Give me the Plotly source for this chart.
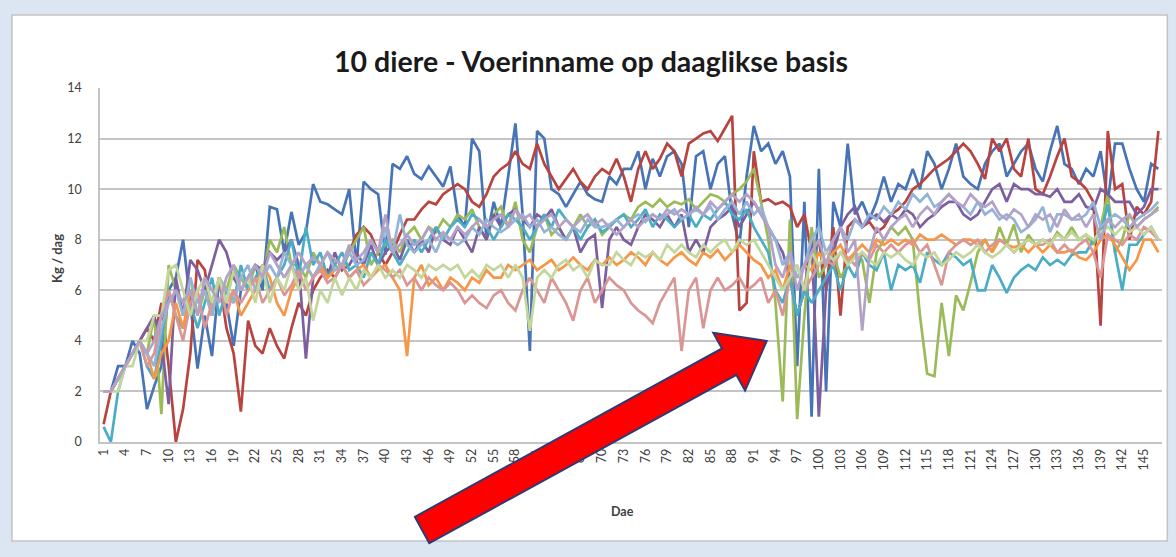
import plotly.graph_objects as go

days = list(range(1, 148))

blue = [2.0, 2.0, 3.0, 3.0, 4.0, 3.5, 1.3, 2.2, 3.0, 6.0,
        6.5, 8.0, 5.5, 2.9, 5.0, 3.4, 6.5, 5.5, 3.8, 6.0,
        6.5, 7.0, 6.0, 9.3, 9.2, 7.5, 9.1, 7.8, 8.3, 10.2,
        9.5, 9.4, 9.2, 9.0, 10.0, 7.0, 10.3, 10.0, 9.8, 7.4,
        11.0, 10.8, 11.3, 10.6, 10.4, 10.9, 10.5, 10.1, 10.9, 9.0,
        8.5, 12.0, 11.5, 8.0, 9.5, 8.5, 10.5, 12.6, 9.0, 3.6,
        12.3, 12.0, 10.0, 9.8, 9.3, 9.8, 10.3, 9.8, 9.6, 9.5,
        10.5, 10.2, 10.8, 10.8, 11.5, 10.0, 11.2, 10.5, 11.3, 11.5,
        11.0, 8.5, 11.3, 11.5, 10.0, 11.0, 11.3, 9.0, 7.8, 10.5,
        12.5, 11.5, 11.8, 11.0, 11.5, 10.5, 3.0, 9.5, 1.0, 10.8,
        2.0, 9.5, 8.5, 11.8, 9.0, 9.5, 8.8, 9.5, 10.5, 9.5,
        10.2, 10.0, 10.8, 10.0, 11.5, 11.0, 10.0, 10.8, 11.8, 10.5,
        10.2, 10.0, 11.0, 11.5, 11.8, 10.5, 11.0, 11.5, 11.8, 10.8,
        10.3, 11.5, 12.5, 11.0, 10.8, 10.2, 10.8, 10.5, 11.5, 9.5,
        11.8, 11.8, 10.8, 10.0, 9.5, 11.0, 10.8]

red = [0.7, 2.0, 2.5, 3.0, 3.5, 4.0, 4.5, 4.0, 5.5, 3.0,
       0.0, 1.3, 3.5, 7.2, 6.8, 5.0, 6.5, 4.5, 3.5, 1.2,
       4.8, 3.8, 3.5, 4.5, 3.8, 3.3, 4.5, 5.5, 5.0, 6.0,
       6.5, 6.8, 6.5, 7.0, 7.5, 8.2, 8.5, 8.2, 7.5, 7.0,
       7.5, 8.2, 8.8, 8.8, 9.2, 9.5, 9.4, 9.8, 10.0, 10.2,
       10.0, 9.5, 9.3, 9.8, 10.5, 10.8, 11.0, 11.5, 11.0, 10.8,
       11.8, 11.0, 10.5, 10.0, 10.4, 10.8, 10.3, 10.0, 10.5, 10.8,
       10.6, 11.2, 10.5, 9.5, 10.8, 11.5, 10.8, 11.2, 11.8, 11.5,
       10.5, 11.8, 12.0, 12.2, 12.3, 11.9, 12.4, 12.9, 5.2, 5.5,
       11.5, 9.5, 9.6, 9.4, 9.5, 9.3, 8.5, 9.0, 7.5, 8.0,
       6.0, 8.5, 5.0, 8.5, 8.8, 8.5, 8.7, 8.3, 8.5, 9.0,
       9.2, 9.5, 10.0, 10.2, 10.5, 10.8, 11.0, 11.2, 11.5, 11.8,
       11.5, 11.0, 10.4, 12.0, 11.5, 12.0, 10.8, 10.5, 12.0, 10.0,
       9.8, 10.5, 11.3, 12.0, 10.5, 10.3, 10.0, 9.5, 4.6, 12.3,
       10.0, 10.2, 8.0, 9.3, 9.0, 9.5, 12.3]

green = [2.0, 2.0, 2.5, 3.0, 3.5, 4.0, 3.5, 5.0, 1.1, 7.0,
         6.0, 5.5, 6.5, 5.0, 6.0, 5.5, 6.5, 6.0, 7.0, 6.5,
         6.0, 7.0, 6.5, 8.0, 7.5, 8.5, 7.0, 7.0, 6.5, 7.5,
         7.0, 7.5, 7.0, 6.8, 7.5, 8.0, 8.5, 7.0, 7.5, 7.8,
         8.0, 7.5, 8.2, 8.5, 8.0, 8.5, 8.3, 8.8, 8.5, 9.0,
         8.8, 9.2, 8.5, 8.0, 9.0, 9.3, 8.5, 9.5, 8.0, 7.5,
         8.5, 9.0, 8.2, 8.5, 8.0, 8.5, 9.0, 8.5, 8.8, 8.2,
         8.5, 8.8, 9.0, 8.8, 9.3, 9.5, 9.3, 9.6, 9.3, 9.5,
         9.4, 9.6, 9.2, 9.5, 9.8, 9.7, 9.5, 9.8, 10.0, 10.3,
         10.8, 9.5, 8.0, 5.5, 1.6, 8.8, 0.9, 5.0, 8.5, 6.5,
         7.0, 7.5, 6.5, 7.0, 7.5, 7.2, 5.5, 7.5, 8.0, 8.5,
         8.2, 8.5, 8.0, 5.0, 2.7, 2.6, 5.5, 3.4, 5.8, 5.2,
         6.3, 7.5, 8.0, 7.5, 8.5, 7.8, 8.6, 7.5, 8.2, 7.8,
         8.0, 7.8, 8.3, 8.0, 8.5, 8.0, 8.2, 7.8, 8.5, 9.8,
         7.5, 8.0, 9.0, 8.5, 8.8, 9.0, 9.3]

purple = [2.0, 2.0, 2.5, 3.0, 3.5, 4.0, 4.5, 5.0, 4.0, 1.5,
          6.5, 5.0, 7.2, 6.8, 6.0, 7.0, 8.0, 7.5, 6.5, 6.0,
          6.5, 7.0, 6.8, 7.5, 7.2, 7.5, 8.0, 7.0, 3.3, 6.5,
          7.0, 6.5, 7.5, 6.8, 7.0, 7.5, 7.0, 7.8, 7.0, 7.5,
          7.8, 7.2, 8.0, 7.5, 8.0, 7.5, 8.5, 8.0, 7.8, 8.5,
          8.0, 7.5, 8.5, 8.0, 9.0, 8.5, 9.0, 9.2, 8.8, 8.5,
          9.0, 8.8, 9.2, 8.5, 8.0, 8.5, 7.5, 8.0, 8.2, 5.3,
          8.0, 8.5, 8.0, 7.8, 8.5, 9.0, 8.8, 8.5, 9.0, 8.5,
          9.0, 7.5, 8.0, 7.5, 8.5, 8.8, 9.0, 9.3, 8.5, 9.0,
          9.5, 9.0, 8.5, 8.0, 7.5, 6.5, 5.0, 6.0, 8.0, 1.0,
          6.0, 7.5, 8.5, 9.0, 9.3, 8.5, 8.8, 9.0, 8.7, 9.0,
          8.8, 9.2, 9.0, 8.5, 8.8, 9.0, 9.3, 9.5, 9.5, 9.0,
          8.8, 9.0, 9.5, 10.0, 10.2, 9.5, 10.2, 10.0, 10.0, 9.8,
          9.8, 9.7, 10.0, 9.5, 9.5, 9.8, 9.3, 9.2, 10.0, 9.8,
          9.5, 9.5, 9.5, 9.0, 9.3, 10.0, 10.0]

aqua = [0.6, 0.0, 2.0, 3.0, 3.5, 4.0, 3.0, 2.5, 4.0, 6.0,
        5.0, 4.5, 5.5, 4.5, 5.5, 6.5, 5.0, 6.0, 5.5, 7.0,
        6.0, 6.5, 7.0, 6.0, 6.5, 7.0, 8.0, 6.5, 8.5, 7.0,
        7.5, 6.5, 7.0, 7.5, 6.8, 7.0, 6.5, 7.5, 7.0, 8.0,
        7.5, 7.0, 7.5, 8.0, 7.5, 8.0, 8.5, 8.0, 8.5, 8.8,
        8.5, 9.0, 8.8, 8.5, 8.0, 8.5, 9.0, 8.8, 8.5, 8.0,
        8.5, 9.0, 8.5, 9.2, 8.8, 8.5, 8.0, 8.5, 8.8, 8.3,
        8.5, 8.8, 9.0, 8.5, 8.8, 9.2, 8.5, 9.0, 8.8, 8.5,
        8.8, 9.0, 8.5, 9.0, 8.8, 9.2, 9.5, 9.0, 8.8, 9.2,
        8.5, 8.0, 7.5, 6.0, 5.5, 6.5, 5.0, 6.0, 5.5, 6.0,
        6.5, 7.0, 6.0, 7.0, 6.5, 7.5, 7.0, 6.8, 7.5, 6.0,
        7.0, 6.8, 7.0, 6.3, 7.5, 7.2, 7.0, 7.5, 7.3, 7.0,
        7.2, 6.0, 6.0, 7.0, 6.5, 5.9, 6.5, 6.8, 7.0, 6.8,
        7.3, 7.0, 7.2, 7.0, 7.4, 7.5, 7.5, 8.0, 8.2, 9.4,
        7.5, 6.0, 7.8, 7.8, 8.2, 8.5, 8.0]

orange = [2.0, 2.0, 2.5, 3.0, 3.5, 4.0, 3.5, 2.5, 3.5, 4.0,
          5.5, 4.5, 6.0, 5.5, 6.0, 5.0, 6.5, 5.5, 6.0, 5.0,
          5.5, 6.0, 7.0, 6.5, 5.5, 5.0, 6.0, 6.5, 7.0, 6.5,
          7.0, 6.5, 6.8, 7.0, 6.5, 6.8, 7.0, 6.5, 6.8, 7.0,
          6.5, 6.0, 3.4, 6.5, 7.0, 6.2, 6.5, 6.0, 6.5, 6.3,
          6.0, 6.5, 6.3, 6.8, 6.5, 6.5, 7.0, 6.8, 7.0, 7.2,
          6.8, 7.0, 7.2, 6.8, 7.0, 7.3, 7.0, 6.8, 7.2, 7.0,
          7.3, 7.0, 7.2, 7.5, 7.3, 7.0, 7.5, 7.2, 7.0, 7.3,
          7.5, 7.2, 7.0, 7.5, 7.3, 7.6, 7.2, 7.5, 7.8, 7.5,
          7.2, 7.0, 6.5, 6.8, 6.0, 7.0, 6.5, 7.0, 6.8, 7.5,
          7.0, 7.5, 7.8, 7.2, 7.5, 7.8, 7.5, 8.0, 7.8, 8.0,
          7.8, 8.0, 7.8, 8.2, 8.0, 8.0, 8.2, 8.0, 7.8, 8.0,
          8.0, 7.8, 8.0, 7.5, 8.0, 7.8, 7.7, 7.8, 7.5, 7.8,
          7.5, 7.8, 7.5, 7.5, 7.6, 7.3, 7.2, 7.5, 8.0, 8.2,
          7.8, 7.3, 6.8, 7.2, 8.0, 8.0, 7.5]

light_blue = [2.0, 2.0, 2.5, 3.0, 3.5, 4.0, 3.5, 3.0, 4.5, 5.5,
              6.0, 5.0, 6.5, 5.5, 6.0, 5.0, 6.5, 6.0, 5.5, 6.5,
              7.0, 6.0, 6.5, 7.0, 6.5, 7.5, 7.0, 6.5, 7.0, 6.5,
              7.0, 7.5, 6.8, 7.0, 7.5, 7.0, 7.2, 8.0, 7.5, 8.5,
              7.5, 9.0, 7.8, 7.5, 7.8, 8.0, 7.5, 8.2, 8.0, 7.8,
              8.0, 8.5, 8.2, 8.8, 8.5, 8.3, 8.5, 8.8, 9.0, 8.5,
              8.8, 8.3, 8.5, 8.2, 8.0, 8.5, 8.3, 8.8, 8.5, 8.5,
              8.6, 8.8, 8.5, 8.8, 9.0, 8.7, 9.0, 8.8, 9.0, 9.2,
              8.8, 9.0, 9.2, 9.0, 9.3, 8.8, 9.2, 9.5, 9.0, 9.5,
              9.0, 9.3, 8.5, 8.0, 7.0, 7.5, 6.5, 7.0, 8.0, 8.5,
              7.5, 8.0, 8.5, 8.0, 8.8, 8.5, 9.0, 8.8, 9.3, 9.0,
              9.5, 9.2, 9.8, 9.5, 9.8, 9.3, 9.5, 9.8, 9.5, 9.3,
              9.0, 9.5, 9.0, 9.2, 8.8, 9.0, 8.8, 8.3, 8.5, 8.8,
              9.3, 8.3, 9.0, 9.0, 8.8, 8.8, 9.0, 9.5, 8.5, 8.8,
              9.0, 8.8, 8.5, 8.8, 9.0, 9.2, 9.5]

pink = [2.0, 2.0, 2.5, 3.0, 3.5, 4.0, 3.0, 3.5, 5.0, 6.0,
        5.0, 4.0, 5.5, 6.0, 4.5, 5.5, 6.5, 5.0, 6.0, 5.5,
        6.0, 6.5, 5.5, 6.0, 6.5, 5.8, 6.2, 6.8, 6.0, 6.5,
        6.8, 6.3, 6.5, 7.0, 6.5, 6.8, 6.2, 6.5, 7.0, 6.8,
        6.5, 6.8, 6.2, 6.5, 6.0, 6.5, 6.2, 6.0, 6.3, 6.0,
        5.5, 5.8, 5.5, 5.3, 5.8, 6.0, 5.5, 5.2, 6.0, 6.5,
        6.0, 5.5, 6.5, 6.0, 5.5, 4.8, 6.0, 6.5, 5.5, 6.0,
        6.5, 6.2, 6.0, 5.5, 5.2, 5.0, 4.7, 5.5, 6.0, 6.5,
        3.6, 6.0, 6.5, 4.5, 6.0, 6.5, 6.0, 6.2, 6.5, 6.0,
        6.2, 6.5, 5.5, 6.0, 5.0, 6.5, 7.0, 6.0, 6.5, 7.0,
        7.2, 7.0, 7.5, 7.3, 7.0, 7.5, 7.2, 7.8, 7.5, 7.8,
        7.5, 7.8, 8.0, 7.5, 7.8, 7.0, 6.2, 7.5, 7.8, 8.0,
        7.8, 8.0, 7.5, 7.8, 8.0, 7.8, 7.5, 7.8, 8.0, 7.8,
        7.8, 8.0, 7.5, 7.8, 7.5, 7.8, 8.0, 7.5, 6.5, 8.2,
        8.0, 7.8, 8.2, 8.0, 8.5, 8.3, 8.0]

light_green = [2.0, 2.0, 2.0, 3.0, 3.0, 4.0, 4.0, 5.0, 5.0, 6.8,
               7.0, 6.0, 5.0, 6.0, 6.5, 5.5, 6.5, 5.5, 6.8, 6.0,
               6.5, 5.5, 7.0, 5.5, 6.5, 6.0, 7.0, 6.0, 6.5, 4.8,
               6.0, 5.5, 6.5, 5.8, 6.5, 6.0, 6.8, 6.5, 7.0, 6.5,
               6.8, 6.5, 7.0, 6.8, 6.5, 7.0, 6.8, 7.0, 6.8, 7.0,
               6.5, 6.8, 6.5, 7.0, 6.8, 7.0, 6.5, 7.0, 6.5, 4.4,
               6.5, 6.8, 6.5, 7.0, 7.2, 6.8, 7.0, 6.5, 7.2, 7.0,
               7.0, 7.5, 7.2, 7.0, 7.5, 7.3, 7.5, 7.2, 7.8, 7.5,
               7.8, 7.5, 7.3, 7.8, 7.5, 7.8, 8.0, 7.5, 8.0, 7.8,
               8.0, 7.5, 7.0, 6.5, 6.0, 6.5, 7.0, 6.0, 7.5, 7.0,
               7.5, 7.2, 7.5, 7.0, 7.3, 7.5, 7.2, 7.0, 7.5, 7.3,
               7.5, 7.2, 7.0, 7.5, 7.3, 7.5, 7.0, 7.2, 7.5, 7.3,
               7.5, 7.8, 7.5, 7.3, 7.5, 7.8, 7.5, 7.8, 8.0, 7.8,
               8.0, 7.8, 8.2, 8.0, 8.3, 8.0, 8.2, 8.0, 8.3, 8.5,
               8.2, 8.5, 8.3, 8.5, 8.2, 8.5, 8.0]

lavender = [2.0, 2.0, 2.5, 3.0, 3.5, 4.0, 3.5, 4.0, 5.0, 5.5,
            6.0, 5.5, 6.0, 5.0, 6.5, 6.0, 5.5, 6.5, 7.0, 6.0,
            6.5, 7.0, 6.5, 7.5, 7.0, 6.5, 7.0, 7.5, 7.0, 7.3,
            7.0, 7.5, 7.2, 7.0, 7.8, 7.2, 7.5, 8.0, 7.5, 9.0,
            7.5, 7.8, 8.2, 7.8, 8.0, 8.5, 8.0, 8.3, 8.0, 8.5,
            8.2, 8.5, 8.8, 8.5, 8.8, 9.0, 8.5, 9.2, 8.8, 9.0,
            8.5, 8.8, 9.0, 8.5, 8.8, 8.5, 8.8, 9.0, 8.6, 8.8,
            8.5, 8.2, 8.5, 8.8, 8.5, 8.8, 9.0, 8.8, 9.2, 9.0,
            9.2, 9.0, 9.3, 9.0, 9.5, 9.2, 9.5, 9.8, 9.5, 9.8,
            9.5, 9.0, 8.5, 7.0, 6.5, 7.5, 6.0, 7.0, 7.5, 8.0,
            7.0, 8.0, 8.5, 7.5, 8.0, 4.4, 7.5, 8.5, 8.0, 8.5,
            8.8, 9.0, 8.5, 9.0, 9.3, 9.0, 9.5, 9.8, 9.5, 9.3,
            9.8, 9.5, 9.3, 9.5, 9.0, 8.8, 9.2, 9.0, 8.5, 9.0,
            8.8, 9.0, 8.5, 9.2, 8.8, 9.0, 8.5, 9.0, 8.0, 8.8,
            8.5, 8.8, 9.0, 8.5, 8.8, 9.0, 9.2]

series_names = ["Dier 1", "Dier 2", "Dier 3", "Dier 4", "Dier 5",
                "Dier 6", "Dier 7", "Dier 8", "Dier 9", "Dier 10"]
series_values = [blue, red, green, purple, aqua, orange,
                 light_blue, pink, light_green, lavender]
series_colors = ["#4674B6", "#B8433F", "#9BBB59", "#7D5FA0", "#4BACC6",
                 "#F79646", "#95B3D7", "#D99694", "#C3D69B", "#B3A2C7"]

tick_days = list(range(1, 148, 3))

for vals in series_values:
    assert len(vals) == len(days), len(vals)

W, H = 1176, 557
L, R, T, B = 100, 1161.7, 88, 442


def px(x):
    return (x - L) / (R - L)


def py(y):
    return (B - y) / (B - T)


fig = go.Figure()
for name, vals, col in zip(series_names, series_values, series_colors):
    fig.add_trace(go.Scatter(x=days, y=vals, mode="lines", name=name,
                             line=dict(color=col, width=2.7),
                             showlegend=False))

# chart box
shapes = [dict(type="rect", xref="paper", yref="paper",
               x0=px(12), x1=px(1167), y0=py(541), y1=py(15),
               fillcolor="white", line=dict(color="#C4C4C4", width=1.5),
               layer="below")]

# red arrow (pixel geometry converted to paper coordinates)
arrow_px = [(429.2, 543.2), (414.8, 516.8), (721.8, 348.5), (713.1, 332.8),
            (766.5, 341.0), (744.9, 390.6), (736.2, 374.9)]
path = "M " + " L ".join(f"{px(a):.5f},{py(b):.5f}" for a, b in arrow_px) + " Z"
shapes.append(dict(type="path", xref="paper", yref="paper", path=path,
                   fillcolor="#FF0000", line=dict(color="#2F3A73", width=2),
                   layer="above"))

fig.update_layout(
    width=W, height=H,
    margin=dict(l=L, r=W - R, t=T, b=H - B),
    paper_bgcolor="#DCE6F2",
    plot_bgcolor="white",
    font=dict(family="Lato, Carlito, Calibri, sans-serif", color="#404040"),
    title=dict(text="<b>10 diere - Voerinname op daaglikse basis</b>",
               x=591 / W, xref="container", xanchor="center",
               y=1 - 62 / H, yref="container", yanchor="middle",
               font=dict(family="Lato, Calibri, sans-serif", size=28.5,
                         color="#1A1A1A")),
    shapes=shapes,
    annotations=[
        dict(text="<b>Dae</b>", xref="paper", yref="paper",
             x=px(622), y=py(511), xanchor="center", yanchor="middle",
             showarrow=False, font=dict(size=12.5, color="#404040")),
        dict(text="<b>Kg / dag</b>", xref="paper", yref="paper",
             x=px(57), y=py(258), xanchor="center", yanchor="middle",
             showarrow=False, textangle=-90,
             font=dict(size=13, color="#404040")),
    ],
)

fig.update_xaxes(range=[0.5, 147.5], tickmode="array", tickvals=tick_days,
                 ticktext=[str(d) for d in tick_days], tickangle=-90,
                 showgrid=False, zeroline=False, showline=True,
                 linecolor="#C4C4C4", linewidth=1.5,
                 tickfont=dict(size=12.5, color="#404040"))
fig.update_yaxes(range=[0, 14], dtick=2, showgrid=True,
                 gridcolor="#C4C4C4", gridwidth=1.5, zeroline=False,
                 showline=True, linecolor="#C4C4C4", linewidth=1.5,
                 ticklabelstandoff=14,
                 tickfont=dict(size=12.5, color="#404040"))

fig.write_html(
    "out.html",
    config={"displayModeBar": False},
    post_script="document.body.style.margin='0';"
                "document.body.style.overflow='hidden';"
                "document.body.style.background='#DCE6F2';",
)
